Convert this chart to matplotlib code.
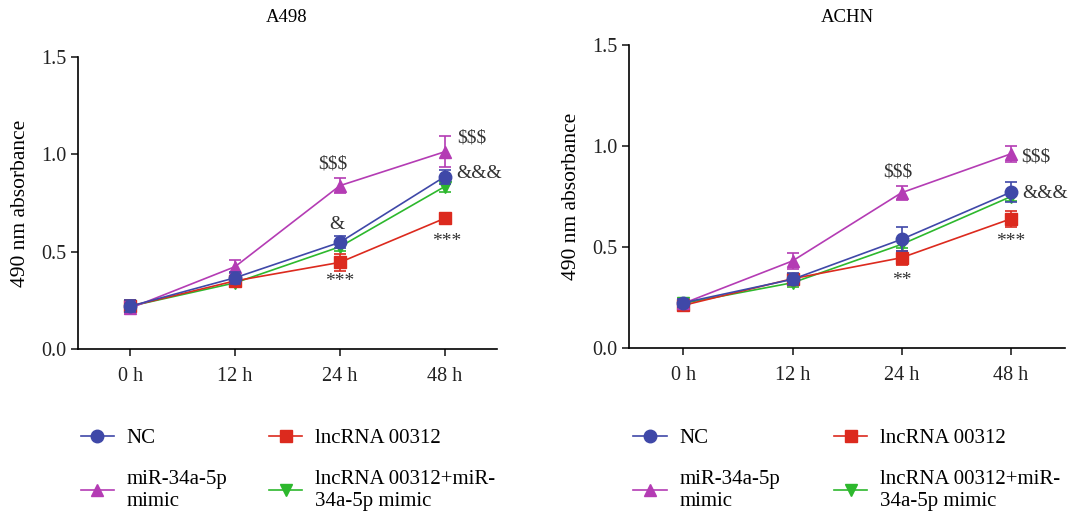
import numpy as np
import matplotlib
matplotlib.use("Agg")
import matplotlib.pyplot as plt

plt.rcParams['font.family'] = ['Liberation Serif', 'DejaVu Serif']

times = ['0 h', '12 h', '24 h', '48 h']
groups = ['NC', 'lncRNA 00312', 'miR-34a-5p\nmimic', 'lncRNA 00312+miR-\n34a-5p mimic']

# A498
a498_nc = [0.22, 0.366, 0.548, 0.885]
a498_lnc = [0.22, 0.35, 0.445, 0.671]
a498_mir = [0.21, 0.423, 0.839, 1.013]
a498_combo = [0.22, 0.34, 0.525, 0.834]
a498_nc_err = [0.03, 0.03, 0.03, 0.035]
a498_lnc_err = [0.03, 0.02, 0.045, 0.02]
a498_mir_err = [0.03, 0.035, 0.04, 0.08]
a498_combo_err = [0.02, 0.02, 0.02, 0.03]

# ACHN
achn_nc = [0.223, 0.339, 0.537, 0.77]
achn_lnc = [0.21, 0.342, 0.446, 0.638]
achn_mir = [0.22, 0.43, 0.768, 0.96]
achn_combo = [0.22, 0.322, 0.512, 0.748]
achn_nc_err = [0.02, 0.03, 0.06, 0.05]
achn_lnc_err = [0.02, 0.02, 0.035, 0.04]
achn_mir_err = [0.02, 0.04, 0.035, 0.04]
achn_combo_err = [0.02, 0.02, 0.02, 0.02]

# significance marks: (x, y, text)
a498_marks = [(1.93, 0.95, '$$$'), (1.97, 0.64, '&'), (2.0, 0.345, '***'),
              (3.26, 1.085, '$$$'), (3.33, 0.9, '&&&'), (3.02, 0.55, '***')]
achn_marks = [(1.97, 0.87, '$$$'), (2.0, 0.335, '**'),
              (3.23, 0.945, '$$$'), (3.32, 0.765, '&&&'), (3.0, 0.525, '***')]

colors = {'nc': '#3f48a8', 'lnc': '#dc2a1e', 'mir': '#b43cb4', 'combo': '#2db82d'}

fig = plt.figure(figsize=(10.92, 5.21), dpi=100)
ax1 = fig.add_axes([0.0714, 0.3301, 0.3837, 0.5605])
ax2 = fig.add_axes([0.576, 0.3326, 0.3993, 0.581])


def panel(ax, nc, lnc, mir, combo, errs, marks):
    x = np.arange(len(times))
    series = [(combo, errs[3], colors['combo'], 'v', groups[3], 2),
              (lnc, errs[1], colors['lnc'], 's', groups[1], 3),
              (mir, errs[2], colors['mir'], '^', groups[2], 4),
              (nc, errs[0], colors['nc'], 'o', groups[0], 5)]
    handles = {}
    for vals, err, c, m, lab, z in series:
        h = ax.errorbar(x, vals, yerr=err, color=c, marker=m, markersize=9,
                        lw=1.2, capsize=4, capthick=1.2, elinewidth=1.2,
                        label=lab, zorder=z)
        handles[lab] = h[0]
    for mx, my, t in marks:
        ax.text(mx, my, t, ha='center', va='center', fontsize=14, color='#333333')
    ax.set_xlim(-0.5, 3.5)
    ax.set_ylim(0, 1.5)
    ax.set_xticks(x)
    ax.set_xticklabels(times)
    ax.set_yticks([0, 0.5, 1.0, 1.5])
    ax.set_yticklabels(['0.0', '0.5', '1.0', '1.5'])
    ax.spines['top'].set_visible(False)
    ax.spines['right'].set_visible(False)
    ax.spines['left'].set_linewidth(1.2)
    ax.spines['bottom'].set_linewidth(1.2)
    ax.tick_params(labelsize=14.5, width=1.2, length=5, colors='#222222')
    ax.tick_params(axis='x', pad=8)
    ax.set_ylabel('490 nm absorbance', fontsize=15.5, labelpad=8)
    order = [groups[0], groups[2], groups[1], groups[3]]
    return [handles[g] for g in order], order


h, l = panel(ax1, a498_nc, a498_lnc, a498_mir, a498_combo,
             [a498_nc_err, a498_lnc_err, a498_mir_err, a498_combo_err], a498_marks)
fig.text(287 / 1092, 1 - 18 / 521, 'A498', ha='center', va='center', fontsize=13.5)
fig.legend(h, l, loc='upper left', bbox_to_anchor=(0.074, 0.178), ncol=2, frameon=False,
           fontsize=15, handlelength=1.6, handletextpad=0.6, columnspacing=2.0,
           labelspacing=1.05, borderpad=0, borderaxespad=0)

h, l = panel(ax2, achn_nc, achn_lnc, achn_mir, achn_combo,
             [achn_nc_err, achn_lnc_err, achn_mir_err, achn_combo_err], achn_marks)
fig.text(847 / 1092, 1 - 18 / 521, 'ACHN', ha='center', va='center', fontsize=13.5)
fig.legend(h, l, loc='upper left', bbox_to_anchor=(0.58, 0.178), ncol=2, frameon=False,
           fontsize=15, handlelength=1.6, handletextpad=0.6, columnspacing=2.6,
           labelspacing=1.05, borderpad=0, borderaxespad=0)

fig.savefig('out.png', dpi=100)
